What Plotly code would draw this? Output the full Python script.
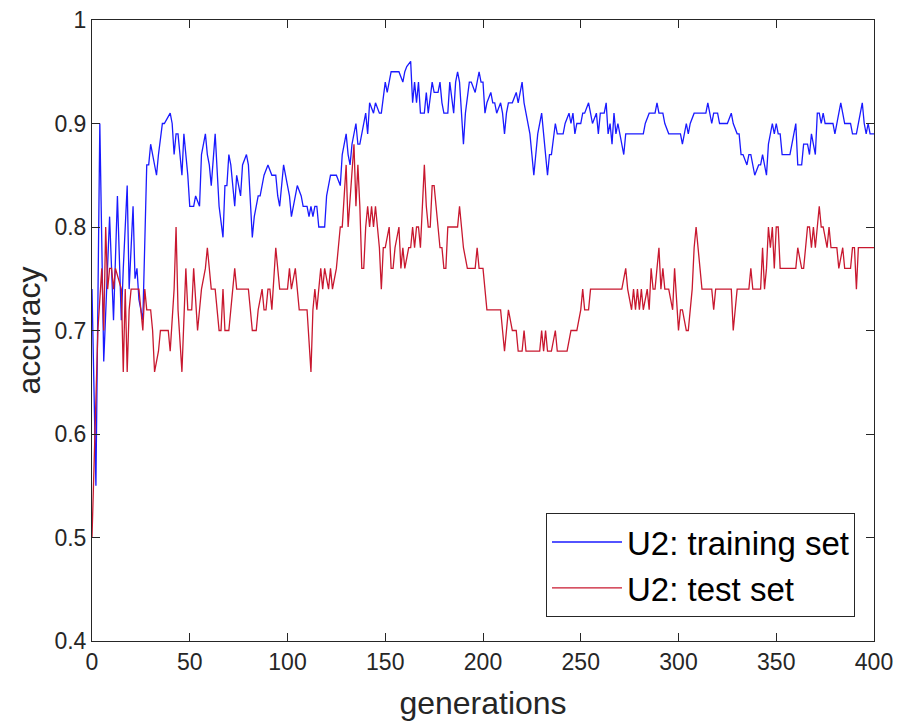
import plotly.graph_objects as go

# ---- data ----
train_gen = [0, 2, 4, 6, 9, 11, 13, 15, 16, 18, 19, 21, 22, 23, 24, 26, 28, 29, 30, 31, 33, 34, 36, 37, 40, 41, 42, 43, 44, 46, 47, 49,
             50, 52, 53, 55, 56, 58, 59, 60, 61, 63, 65, 67, 68, 69, 70, 71, 73, 74, 76, 77, 79, 80, 82, 83, 85, 86, 88, 90, 92, 94, 95, 96, 98,
             100, 101, 102, 103, 104, 105, 107, 108, 109, 110, 111, 112, 113, 114, 115, 116, 118, 119, 120, 122, 123, 125, 127, 128, 130, 131, 132, 133, 135, 136, 137, 139,
             140, 141, 142, 144, 145, 147, 148, 150, 151, 153, 154, 156, 157, 159, 160, 161, 163, 164, 165, 166, 167, 168, 170, 171, 172, 174, 175, 177, 178, 179,
             180, 181, 182, 183, 185, 186, 187, 188, 190, 191, 193, 194, 196, 198, 199, 200, 201, 202, 204, 205, 206, 207, 209, 210, 211, 212, 213, 215, 217, 218,
             220, 221, 223, 224, 225, 226, 227, 228, 230, 231, 233, 234, 235, 237, 238, 240, 241, 242, 244, 245, 246, 247, 248, 250, 251, 252, 254, 255, 256, 258, 259,
             260, 262, 263, 264, 265, 266, 267, 268, 269, 271, 272, 273, 274, 276, 277, 278, 280, 281, 282, 283, 285, 286, 288, 289, 290, 292, 293, 295, 296, 297, 298,
             300, 301, 302, 304, 305, 306, 308, 309, 310, 312, 313, 314, 315, 316, 317, 318, 320, 321, 322, 325, 327, 328, 330, 331, 332, 333, 335, 336, 337, 338, 339,
             341, 342, 343, 344, 345, 346, 348, 349, 350, 351, 352, 353, 354, 356, 357, 359, 360, 361, 363, 364, 365, 366, 367, 368, 370, 371, 372, 373, 374, 375, 377, 378, 379,
             380, 381, 383, 384, 385, 386, 388, 389, 390, 391, 393, 394, 395, 396, 397, 398, 400]
train_acc = [0.74, 0.55, 0.90, 0.67, 0.81, 0.71, 0.83, 0.71, 0.76, 0.84, 0.74, 0.82, 0.75, 0.76, 0.73, 0.71, 0.86, 0.86, 0.88, 0.87, 0.85, 0.87, 0.90, 0.90, 0.91, 0.90, 0.87, 0.89, 0.89, 0.85, 0.89, 0.85,
             0.82, 0.82, 0.83, 0.82, 0.87, 0.89, 0.87, 0.86, 0.84, 0.89, 0.82, 0.79, 0.84, 0.84, 0.87, 0.86, 0.82, 0.85, 0.83, 0.86, 0.87, 0.86, 0.79, 0.81, 0.83, 0.83, 0.85, 0.86, 0.85, 0.85, 0.83, 0.82, 0.86,
             0.84, 0.83, 0.81, 0.82, 0.83, 0.84, 0.83, 0.82, 0.82, 0.82, 0.81, 0.82, 0.81, 0.82, 0.82, 0.80, 0.80, 0.80, 0.83, 0.85, 0.85, 0.85, 0.84, 0.87, 0.89, 0.87, 0.86, 0.88, 0.90, 0.88, 0.88, 0.90,
             0.91, 0.89, 0.92, 0.91, 0.92, 0.91, 0.91, 0.94, 0.93, 0.95, 0.95, 0.95, 0.95, 0.94, 0.95, 0.955, 0.96, 0.92, 0.94, 0.92, 0.94, 0.91, 0.91, 0.93, 0.91, 0.94, 0.93, 0.93, 0.94, 0.92,
             0.91, 0.91, 0.91, 0.94, 0.91, 0.94, 0.95, 0.94, 0.88, 0.91, 0.94, 0.94, 0.93, 0.95, 0.94, 0.94, 0.91, 0.92, 0.93, 0.92, 0.92, 0.91, 0.92, 0.91, 0.89, 0.91, 0.92, 0.92, 0.93, 0.92,
             0.94, 0.92, 0.90, 0.89, 0.87, 0.85, 0.87, 0.89, 0.91, 0.89, 0.85, 0.87, 0.87, 0.90, 0.89, 0.89, 0.89, 0.90, 0.91, 0.90, 0.91, 0.89, 0.90, 0.90, 0.91, 0.91, 0.92, 0.91, 0.90, 0.91, 0.89,
             0.91, 0.91, 0.92, 0.89, 0.90, 0.88, 0.91, 0.89, 0.90, 0.88, 0.87, 0.89, 0.89, 0.89, 0.89, 0.89, 0.89, 0.89, 0.89, 0.90, 0.91, 0.91, 0.91, 0.92, 0.91, 0.91, 0.90, 0.89, 0.89, 0.89, 0.89,
             0.89, 0.89, 0.88, 0.90, 0.89, 0.90, 0.91, 0.91, 0.91, 0.91, 0.91, 0.91, 0.92, 0.91, 0.90, 0.91, 0.91, 0.90, 0.90, 0.90, 0.91, 0.90, 0.89, 0.89, 0.87, 0.87, 0.86, 0.87, 0.87, 0.86, 0.85,
             0.86, 0.86, 0.87, 0.86, 0.85, 0.88, 0.90, 0.89, 0.90, 0.89, 0.89, 0.87, 0.87, 0.87, 0.87, 0.89, 0.90, 0.86, 0.86, 0.88, 0.88, 0.88, 0.87, 0.89, 0.87, 0.91, 0.91, 0.90, 0.91, 0.90, 0.90, 0.90, 0.90,
             0.89, 0.90, 0.92, 0.91, 0.90, 0.90, 0.90, 0.89, 0.89, 0.89, 0.91, 0.92, 0.90, 0.89, 0.90, 0.89, 0.89]

test_gen = [0, 3, 5, 6, 7, 8, 9, 10, 11, 12, 15, 16, 17, 18, 19, 20, 24, 25, 26, 27, 28, 30, 31, 32, 34, 35, 39, 40, 42, 43, 44, 46, 47, 48, 49,
            51, 52, 54, 56, 58, 59, 61, 63, 65, 66, 67, 68, 70, 71, 73, 74, 80, 81, 82, 84, 85, 87, 88, 89, 90, 91, 92, 94, 95, 96,
            100, 101, 102, 104, 105, 106, 110, 112, 113, 114, 115, 116, 117, 118, 119, 121, 122, 123, 125, 126, 127, 128, 130, 131, 133, 134, 135, 136, 137, 138, 139,
            140, 141, 142, 143, 144, 145, 147, 148, 149, 150, 152, 153, 154, 155, 157, 158, 159, 160, 162, 163, 164, 165, 166, 167, 168, 170, 171, 172, 173, 174, 175, 176, 178, 179,
            180, 181, 182, 187, 188, 189, 190, 192, 196, 197, 198, 200, 202, 209, 210, 211, 212, 213, 215, 217, 218, 220, 221, 222, 229, 230, 231, 232, 233, 235, 237, 238, 243, 245, 248,
            250, 251, 252, 254, 255, 271, 273, 274, 276, 277, 278, 279, 280, 281, 282, 284, 285, 286, 287, 288, 290, 291, 292, 293, 295, 297, 298,
            300, 301, 302, 304, 305, 307, 308, 309, 311, 312, 317, 318, 319, 327, 328, 330, 336, 337, 338, 342, 343, 344, 345, 346, 347, 348, 349, 350, 351, 352,
            360, 361, 363, 364, 365, 366, 367, 368, 369, 370, 371, 372, 373, 374, 376, 377, 378, 381, 382, 384, 385, 388, 389, 390, 391, 392, 400]
test_acc = [0.50, 0.70, 0.76, 0.70, 0.80, 0.74, 0.76, 0.76, 0.74, 0.76, 0.74, 0.66, 0.74, 0.66, 0.72, 0.74, 0.74, 0.72, 0.70, 0.74, 0.72, 0.72, 0.70, 0.66, 0.68, 0.70, 0.70, 0.68, 0.74, 0.80, 0.72, 0.66, 0.72, 0.76, 0.72,
            0.72, 0.76, 0.70, 0.74, 0.76, 0.78, 0.74, 0.74, 0.70, 0.70, 0.74, 0.70, 0.70, 0.72, 0.76, 0.74, 0.74, 0.72, 0.70, 0.70, 0.72, 0.74, 0.72, 0.72, 0.74, 0.74, 0.72, 0.78, 0.76, 0.74,
            0.74, 0.76, 0.74, 0.76, 0.74, 0.72, 0.72, 0.66, 0.72, 0.74, 0.72, 0.74, 0.76, 0.74, 0.76, 0.74, 0.76, 0.74, 0.76, 0.78, 0.80, 0.80, 0.86, 0.80, 0.86, 0.88, 0.82, 0.86, 0.82, 0.76, 0.76,
            0.80, 0.82, 0.80, 0.82, 0.80, 0.82, 0.78, 0.74, 0.78, 0.78, 0.80, 0.76, 0.76, 0.78, 0.80, 0.76, 0.78, 0.76, 0.78, 0.78, 0.80, 0.78, 0.80, 0.80, 0.78, 0.86, 0.82, 0.80, 0.80, 0.84, 0.84, 0.82, 0.78, 0.78,
            0.76, 0.76, 0.80, 0.80, 0.82, 0.80, 0.78, 0.76, 0.76, 0.78, 0.76, 0.76, 0.72, 0.72, 0.70, 0.68, 0.70, 0.72, 0.70, 0.70, 0.68, 0.68, 0.70, 0.68, 0.68, 0.70, 0.68, 0.70, 0.68, 0.68, 0.70, 0.68, 0.68, 0.70, 0.70,
            0.72, 0.74, 0.72, 0.72, 0.74, 0.74, 0.76, 0.74, 0.72, 0.74, 0.72, 0.74, 0.72, 0.74, 0.72, 0.74, 0.72, 0.76, 0.74, 0.74, 0.78, 0.74, 0.76, 0.74, 0.74, 0.72, 0.76,
            0.70, 0.72, 0.72, 0.70, 0.70, 0.74, 0.78, 0.80, 0.76, 0.74, 0.74, 0.72, 0.74, 0.74, 0.70, 0.74, 0.74, 0.76, 0.74, 0.74, 0.78, 0.74, 0.76, 0.80, 0.78, 0.80, 0.76, 0.80, 0.80, 0.76,
            0.76, 0.78, 0.76, 0.76, 0.78, 0.80, 0.80, 0.78, 0.80, 0.78, 0.80, 0.82, 0.80, 0.80, 0.78, 0.80, 0.78, 0.78, 0.76, 0.78, 0.76, 0.76, 0.78, 0.78, 0.74, 0.78, 0.78]

x_ticks = [0, 50, 100, 150, 200, 250, 300, 350, 400]
y_ticks = [0.4, 0.5, 0.6, 0.7, 0.8, 0.9, 1.0]
y_tick_text = ["0.4", "0.5", "0.6", "0.7", "0.8", "0.9", "1"]
series_names = ["U2: training set", "U2: test set"]

FONT = "Liberation Sans, Arial, sans-serif"
AX = "#262626"

fig = go.Figure()
fig.add_trace(go.Scatter(x=train_gen, y=train_acc, mode="lines", name=series_names[0],
                         line=dict(color="#1a1aff", width=1.3)))
fig.add_trace(go.Scatter(x=test_gen, y=test_acc, mode="lines", name=series_names[1],
                         line=dict(color="#c8182f", width=1.3)))

axis_common = dict(showline=True, linecolor=AX, linewidth=1, mirror="ticks", ticks="inside",
                   ticklen=8, tickcolor=AX, tickwidth=1, showgrid=False, zeroline=False,
                   automargin=False,
                   tickfont=dict(family=FONT, size=23, color=AX))

fig.update_layout(
    width=898, height=724,
    margin=dict(l=92, r=24, t=20, b=83, autoexpand=False),
    paper_bgcolor="white", plot_bgcolor="white",
    font=dict(family=FONT, color=AX),
    xaxis=dict(range=[0, 400], tickvals=x_ticks, ticktext=[str(v) for v in x_ticks],
               title=dict(text="generations", font=dict(family=FONT, size=32, color=AX), standoff=18),
               **axis_common),
    yaxis=dict(range=[0.4, 1.0], tickvals=y_ticks, ticktext=y_tick_text,
               title=dict(text="accuracy", font=dict(family=FONT, size=32, color=AX), standoff=4),
               **axis_common),
    legend=dict(x=0.9757, y=0.0386, xanchor="right", yanchor="bottom",
                bgcolor="white", bordercolor=AX, borderwidth=1,
                font=dict(family=FONT, size=33, color="black"),
                itemwidth=70, tracegroupgap=0),
    showlegend=True,
)

fig.write_html("out.html")
